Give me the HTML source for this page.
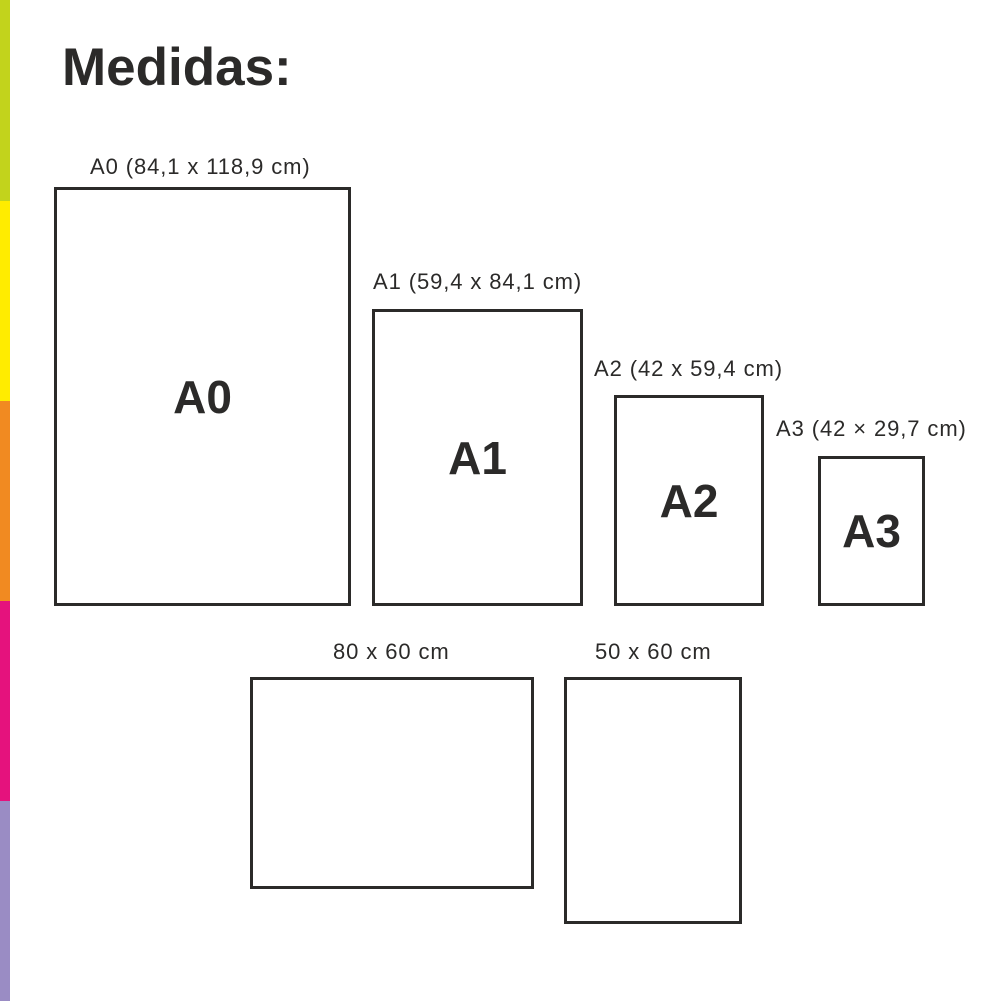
<!DOCTYPE html>
<html><head><style>
body{margin:0;width:1000px;height:1001px;background:#fff;position:relative;overflow:hidden;font-family:"Liberation Sans",sans-serif;color:#2b2a29}
.bar{position:absolute;left:0;width:10px}
.b{position:absolute;border:3px solid #2b2a29;box-sizing:border-box;display:flex;align-items:center;justify-content:center;font-weight:bold;font-size:46px}
.l{position:absolute;font-size:22px;letter-spacing:0.9px;white-space:nowrap}
</style></head><body>
<div class="bar" style="top:0;height:201px;background:#c2d31c"></div>
<div class="bar" style="top:201px;height:200px;background:#ffec00"></div>
<div class="bar" style="top:401px;height:200px;background:#f18a21"></div>
<div class="bar" style="top:601px;height:200px;background:#e5127d"></div>
<div class="bar" style="top:801px;height:200px;background:#9a8cc4"></div>
<div style="position:absolute;left:62px;top:37px;font-size:53px;font-weight:bold">Medidas:</div>
<div class="l" style="left:90px;top:154px">A0 (84,1 x 118,9 cm)</div>
<div class="b" style="left:54px;top:187px;width:297px;height:419px">A0</div>
<div class="l" style="left:373px;top:269px">A1 (59,4 x 84,1 cm)</div>
<div class="b" style="left:372px;top:309px;width:211px;height:297px">A1</div>
<div class="l" style="left:594px;top:356px">A2 (42 x 59,4 cm)</div>
<div class="b" style="left:614px;top:395px;width:150px;height:211px">A2</div>
<div class="l" style="left:776px;top:416px">A3 (42 × 29,7 cm)</div>
<div class="b" style="left:818px;top:456px;width:107px;height:150px">A3</div>
<div class="l" style="left:333px;top:639px">80 x 60 cm</div>
<div class="b" style="left:250px;top:677px;width:284px;height:212px"></div>
<div class="l" style="left:595px;top:639px">50 x 60 cm</div>
<div class="b" style="left:564px;top:677px;width:178px;height:247px"></div>
</body></html>
